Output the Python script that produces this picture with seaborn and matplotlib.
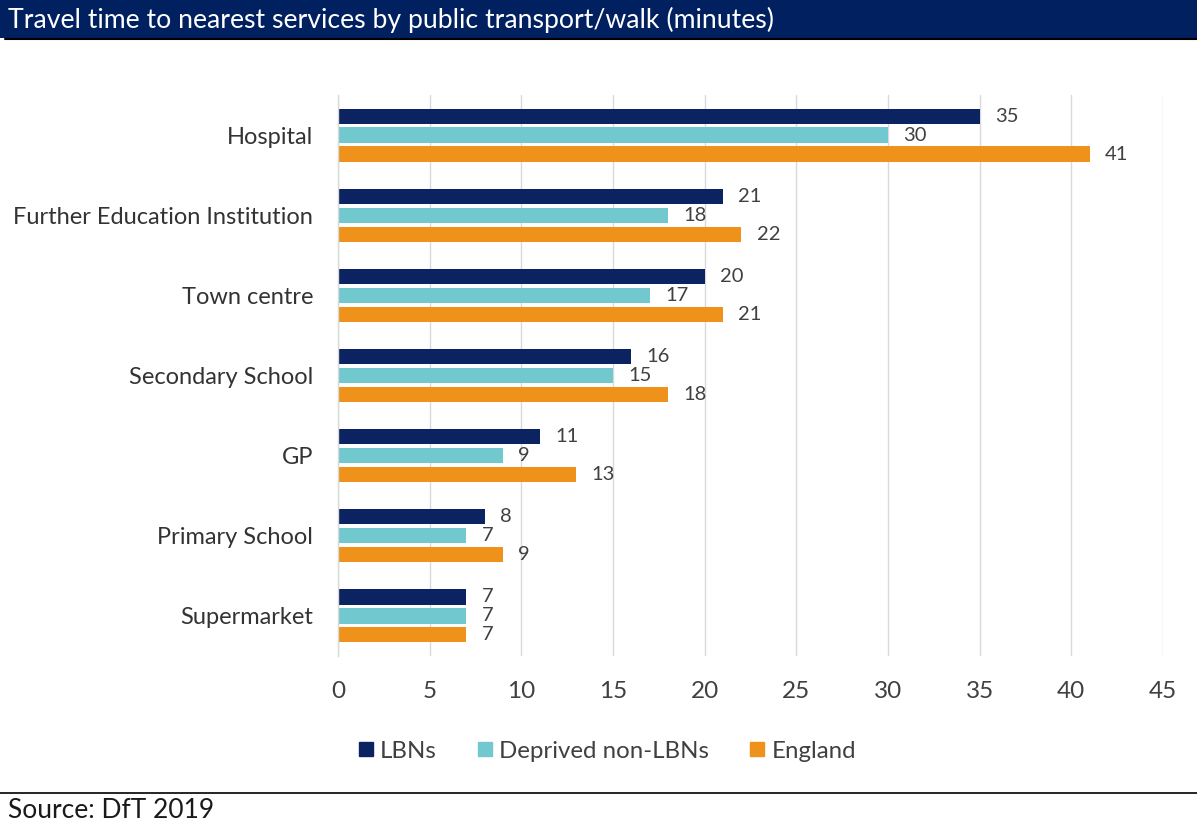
import numpy as np
import pandas as pd
import matplotlib
matplotlib.use("Agg")
import matplotlib.pyplot as plt
from matplotlib.patches import Rectangle
from matplotlib.lines import Line2D
import seaborn as sns

services = ["Hospital", "Further Education Institution", "Town centre",
            "Secondary School", "GP", "Primary School", "Supermarket"]
lbns = [35, 21, 20, 16, 11, 8, 7]
deprived_non_lbns = [30, 18, 17, 15, 9, 7, 7]
england = [41, 22, 21, 18, 13, 9, 7]
series_names = ["LBNs", "Deprived non-LBNs", "England"]
x_ticks = [0, 5, 10, 15, 20, 25, 30, 35, 40, 45]

colors = ["#0B2461", "#72C8CF", "#EE921C"]
NAVY = "#002060"

df = pd.DataFrame({
    "service": services * 3,
    "minutes": lbns + deprived_non_lbns + england,
    "group": [series_names[0]] * 7 + [series_names[1]] * 7 + [series_names[2]] * 7,
})

sns.set_theme(style="white")
plt.rcParams["font.family"] = ["Lato", "DejaVu Sans"]

W, H = 1197, 827
fig = plt.figure(figsize=(W / 100, H / 100), dpi=100)
ax = fig.add_axes([338 / W, 1 - 656 / H, 825 / W, 561 / H])

sns.barplot(data=df, y="service", x="minutes", hue="group", order=services,
            hue_order=series_names, palette=colors, orient="h",
            width=0.71, gap=0.2, saturation=1, ax=ax, legend=False,
            edgecolor="none", linewidth=0)

for cont in ax.containers:
    ax.bar_label(cont, fmt="%g", padding=11, fontsize=14.5, color="#404040")

ax.set_xlim(0, 45)
ax.set_xticks(x_ticks)
ax.set_xticklabels([str(t) for t in x_ticks])
ax.set_ylim(6.5, -0.5)
ax.set_xlabel("")
ax.set_ylabel("")
ax.grid(axis="x", color="#D9D9D9", linewidth=1)
ax.set_axisbelow(True)
for s in ["top", "right", "bottom"]:
    ax.spines[s].set_visible(False)
ax.spines["left"].set_color("#D9D9D9")
ax.spines["left"].set_linewidth(1)
ax.tick_params(axis="y", length=0, pad=18, labelsize=17, labelcolor="#333333")
ax.tick_params(axis="x", length=0, pad=18, labelsize=17.5, labelcolor="#404040")

handles = [Line2D([0], [0], marker="s", linestyle="none", markersize=10,
                  markerfacecolor=c, markeredgecolor=c) for c in colors]
fig.legend(handles, series_names, loc="center", bbox_to_anchor=(605 / W, 1 - 751 / H),
           ncol=3, frameon=False, fontsize=17.3, handletextpad=0.1,
           columnspacing=1.5, handlelength=1.0, labelcolor="#404040")

# Header bar with title
fig.patches.append(Rectangle((0, 1 - 38 / H), 1, 38 / H, transform=fig.transFigure,
                             facecolor=NAVY, edgecolor="none", zorder=0))
fig.lines.append(Line2D([5 / W, 1], [1 - 39 / H, 1 - 39 / H], transform=fig.transFigure,
                        color="black", linewidth=1.5))
fig.text(8 / W, 1 - 20 / H, "Travel time to nearest services by public transport/walk (minutes)",
         color="white", fontsize=19.2, va="center", ha="left")

# Footer rule and source
fig.lines.append(Line2D([0, 1], [1 - 793 / H, 1 - 793 / H], transform=fig.transFigure,
                        color="black", linewidth=1.2))
fig.text(8 / W, 1 - 811 / H, "Source: DfT 2019", color="#1a1a1a", fontsize=19,
         va="center", ha="left")

fig.savefig("out.png", dpi=100, facecolor="white")
